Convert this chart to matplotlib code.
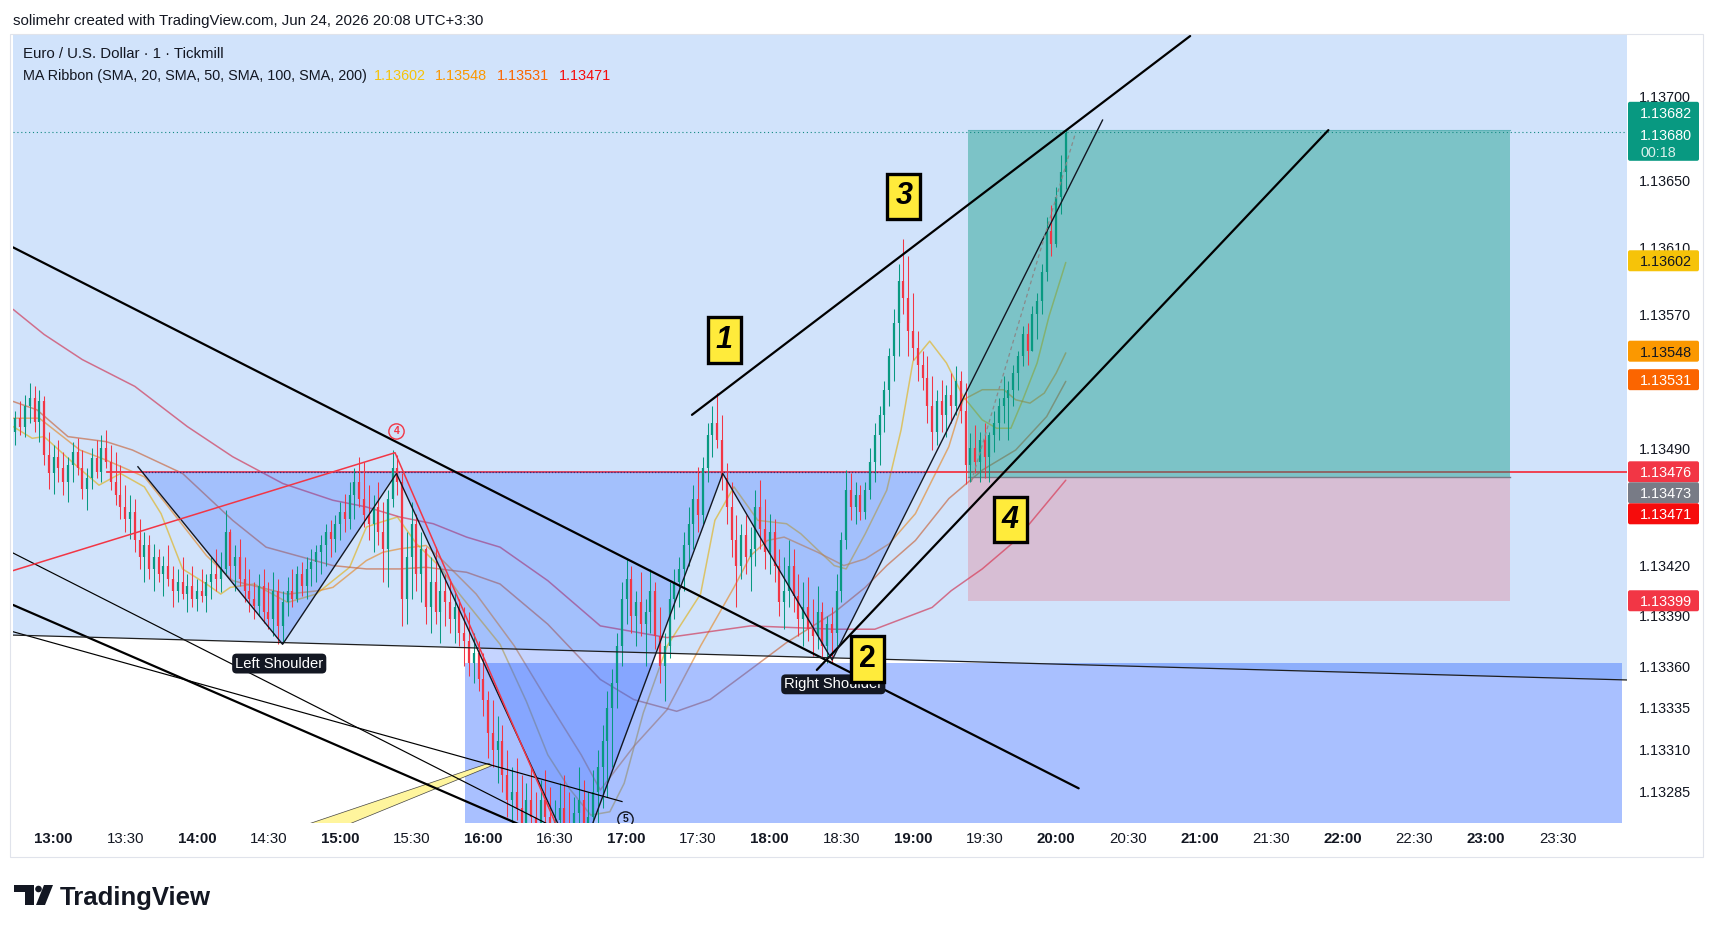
import matplotlib
matplotlib.use("Agg")
import matplotlib.pyplot as plt
from matplotlib.patches import Polygon, Rectangle, FancyBboxPatch, Circle
from matplotlib.collections import LineCollection

plt.rcParams['font.family'] = ['Liberation Sans', 'DejaVu Sans']

W, H = 1717, 933
BASE = 1.13          # prices below are stored in points (0.00001) above 1.13000
UP, DN = '#089981', '#f23645'

# ---------------- candles (2-minute, minutes after 13:00) ----------------
candle_time = list(range(-16, 425, 2))
first_open = 500
candle_high = [
    512, 518, 522, 529, 527, 525, 521, 500, 492,
    495, 488, 485, 494, 496, 489, 478, 490, 495, 498, 501,
    492, 488, 480, 468, 462, 460, 448, 440, 438,
    433, 430, 426, 432, 420, 418, 425, 415, 420, 412, 418, 415, 425, 430, 428, 453,
    442, 432, 436, 425, 418, 410, 415, 418, 410, 416, 412, 405,
    413, 418, 420, 422, 425, 430, 432, 438, 445, 447, 450, 458, 463, 470, 478, 485, 482,
    468, 462, 470, 458, 465, 489, 486,
    475, 440, 458, 451, 440, 431, 425, 431, 420, 415, 412, 405, 400, 395, 392, 380, 375, 368,
    345, 340, 330, 325, 310, 300, 305, 295, 290, 300, 285, 292, 298, 288, 280, 290, 295, 285, 282, 300, 292, 285, 298, 310, 325,
    345, 358, 380, 410, 424, 420, 405, 416, 400, 418, 410, 395, 380, 410, 418,
    425, 440, 455, 468, 479, 485, 505, 515, 523, 510,
    481, 470, 450, 445, 450, 443, 465, 471, 460, 451,
    448, 430, 425, 435, 430, 415, 410, 413, 400, 408, 398, 390, 395,
    415, 440, 477, 475, 470, 468, 470, 490, 505, 515,
    530, 550, 573, 600, 615, 605,
    583, 560, 548, 545, 533, 525, 531, 528, 535, 539, 536, 529,
    499, 504, 500, 505, 500, 512,
    520, 533, 530, 540, 548, 563, 565, 575, 583, 600, 628, 635, 646, 665, 680,
]
candle_low = [
    492, 498, 497, 505, 500, 494, 480, 466, 463,
    470, 462, 458, 470, 474, 460, 453, 466, 472, 470, 478,
    465, 456, 448, 440, 436, 428, 418, 410, 412,
    405, 410, 402, 408, 395, 398, 400, 392, 395, 393, 398, 392, 400, 405, 404, 415,
    412, 405, 408, 398, 392, 388, 390, 386, 382, 378, 373, 374,
    390, 395, 398, 402, 400, 408, 410, 415, 420, 425, 428, 435, 440, 442, 448, 455, 443,
    435, 428, 432, 410, 407, 455, 462,
    384, 385, 400, 405, 398, 385, 380, 385, 374, 384, 380, 374, 372, 360, 354, 350, 345, 330,
    305, 300, 290, 285, 270, 262, 268, 258, 255, 262, 250, 255, 260, 252, 245, 255, 258, 248, 245, 258, 250, 245, 255, 262, 275,
    282, 300, 335, 360, 385, 380, 372, 378, 360, 380, 370, 350, 339, 365, 388,
    395, 405, 420, 430, 440, 445, 470, 485, 490, 465,
    445, 425, 395, 412, 415, 405, 420, 430, 418, 415,
    410, 390, 382, 395, 392, 378, 372, 375, 366, 370, 365, 362, 362,
    372, 398, 430, 447, 445, 447, 448, 460, 470, 480,
    500, 515, 530, 545, 570, 545,
    543, 530, 525, 505, 489, 492, 500, 497, 505, 510, 505, 469,
    470, 475, 470, 472, 470, 488,
    495, 505, 495, 515, 525, 539, 540, 548, 555, 570, 590, 605, 610, 630, 645,
]
candle_close = [
    508, 503, 515, 520, 506, 518, 486, 475, 485,
    478, 470, 480, 488, 478, 466, 472, 484, 476, 490, 482,
    470, 462, 455, 448, 452, 435, 425, 432, 418,
    425, 415, 420, 412, 405, 410, 403, 408, 400, 405, 402, 410, 415, 412, 418, 440,
    420, 425, 412, 405, 400, 396, 408, 392, 388, 405, 384, 398,
    405, 400, 415, 408, 418, 422, 428, 432, 440, 436, 445, 452, 448, 462, 470, 460, 450,
    445, 455, 440, 430, 460, 478, 470,
    400, 425, 445, 415, 430, 395, 410, 392, 405, 398, 388, 395, 380, 375, 362, 368, 352, 340,
    320, 310, 315, 295, 280, 285, 275, 265, 280, 270, 262, 280, 270, 258, 268, 275, 265, 258, 272, 280, 262, 270, 285, 300, 315,
    335, 350, 372, 400, 412, 390, 398, 385, 392, 405, 378, 360, 372, 400, 410,
    418, 432, 445, 460, 450, 478, 498, 505, 495, 472,
    455, 435, 420, 438, 425, 430, 455, 442, 428, 440,
    420, 398, 405, 420, 402, 388, 395, 382, 378, 392, 372, 385, 380,
    405, 435, 465, 455, 462, 452, 465, 482, 498, 510,
    525, 545, 565, 590, 580, 560,
    550, 540, 532, 515, 500, 518, 510, 522, 515, 530, 512, 480,
    490, 482, 495, 485, 498, 505,
    515, 520, 525, 535, 545, 558, 548, 570, 578, 595, 620, 612, 640, 655, 678,
]

# ---------------- MA Ribbon ----------------
sma20_t = [-17, -9, -4, 10, 19, 28, 38, 45, 54, 64, 70, 74, 84, 98, 110, 124, 131, 135, 144, 152,
           162, 170, 187, 198, 207, 216, 225, 233, 239, 247, 257, 271, 277, 285, 295, 307, 313, 327, 332, 340,
           349, 355, 360, 367, 374, 381, 389, 395, 401, 406, 412, 417, 424]
sma20_p = [503, 496, 497, 479, 468, 475, 467, 451, 418, 409, 403, 407, 409, 398, 403, 419, 443, 445, 449, 433,
           419, 403, 373, 339, 307, 287, 271, 273, 290, 332, 372, 403, 447, 467, 447, 445, 439, 420, 418, 439,
           465, 501, 542, 554, 541, 521, 507, 502, 502, 519, 541, 569, 601]
sma50_t = [-17, -6, 11, 22, 38, 47, 64, 75, 98, 111, 117, 131, 138, 145, 156, 163, 177, 193, 207, 221,
           229, 243, 257, 271, 285, 292, 299, 306, 320, 331, 340, 350, 361, 368, 375, 381, 389, 398, 403, 409,
           415, 420, 424]
sma50_p = [508, 508, 489, 483, 473, 457, 426, 411, 403, 405, 407, 423, 428, 430, 432, 423, 403, 372, 339, 307,
           286, 312, 334, 372, 407, 426, 435, 437, 428, 420, 424, 433, 451, 471, 491, 519, 525, 525, 519, 517,
           523, 535, 547]
sma100_t = [-17, -7, 6, 22, 33, 54, 75, 89, 117, 131, 145, 156, 173, 187, 207, 229, 243, 261, 275, 292,
            307, 327, 340, 349, 361, 375, 389, 403, 416, 424]
sma100_p = [518, 513, 497, 494, 489, 475, 447, 431, 420, 418, 418, 419, 416, 409, 385, 352, 340, 333, 340, 358,
            374, 392, 407, 420, 435, 460, 477, 489, 509, 530]
sma200_t = [-17, -4, 12, 34, 56, 75, 96, 117, 131, 145, 159, 173, 187, 207, 229, 257, 292, 327, 344, 368,
            376, 389, 403, 417, 424]
sma200_p = [573, 558, 543, 527, 503, 485, 469, 459, 455, 449, 445, 437, 431, 411, 384, 377, 384, 382, 382, 395,
            405, 418, 435, 459, 471]
ma_colors = ['#f6c309', '#fb9800', '#fb6500', '#f60c0c']
ma_line_colors = ['#e0b21a', '#e58a2a', '#c8643a', '#d0304f']
ma_last = ['1.13602', '1.13548', '1.13531', '1.13471']

# ---------------- axis ticks ----------------
price_ticks = [700, 650, 610, 570, 490, 420, 390, 360, 335, 310, 285]
price_labels = ['1.13700', '1.13650', '1.13610', '1.13570', '1.13490', '1.13420',
                '1.13390', '1.13360', '1.13335', '1.13310', '1.13285']
time_ticks = [0, 30, 60, 90, 120, 150, 180, 210, 240, 270, 300, 330, 360, 390,
              420, 450, 480, 510, 540, 570, 600, 630]
time_labels = ['13:00', '13:30', '14:00', '14:30', '15:00', '15:30', '16:00', '16:30',
               '17:00', '17:30', '18:00', '18:30', '19:00', '19:30', '20:00', '20:30',
               '21:00', '21:30', '22:00', '22:30', '23:00', '23:30']

# ---------------- drawings (time, points) ----------------
zone_line = [(-17.03, 378.5), (659.1, 351.7)]
zone_rect = (172.5, 656.9, 362.1)          # t0, t1, top
neckline = 476
neck_start = 22.3
hs_zigzag = [(35.3, 479), (95.9, 373), (143.6, 475), (219.3, 241), (280.3, 475), (326.1, 363.6), (439.4, 686)]
hs_fill = [(37, 476), (95.9, 373), (143.6, 476), (219.3, 241), (280.3, 476), (326.1, 363.6), (365.2, 476)]
thick_lines = [((-17, 610), (429.4, 287)),
               ((267.4, 510), (476.1, 736.2)),
               ((319.7, 357.7), (534, 680)),
               ((-17, 396.5), (260, 225.3))]
thin_lines = [((-17, 427.5), (230, 249)),
              ((-17, 380.5), (238.1, 279.1))]
red_path = [(-17, 417), (143, 487.4), (220, 234)]
dash_line = [(384.4, 470), (428, 678)]
wedge = [(74, 250), (182.3, 302), (183.5, 300.5), (96.9, 250)]
pos_t0, pos_t1, pos_entry, pos_target, pos_stop = 383, 610.1, 473, 680, 399
last_price = 679
num_boxes = [('1', 281, 554.7, 'italic'), ('2', 341, 364.4, 'normal'),
             ('3', 356.2, 640.4, 'italic'), ('4', 400.7, 447.5, 'italic')]
shoulders = [('Left Shoulder', 94.5, 361.5), ('Right Shoulder', 326.6, 349.1)]
circ_marks = [('4', 143.6, 500.1, '#f23645'), ('5', 239.4, 268.7, '#131722')]

right_labels = [('1.13602', 602, '#f6c309', '#131722'),
                ('1.13548', 548, '#fb9800', '#131722'),
                ('1.13531', 531, '#fb6500', 'white'),
                ('1.13476', 476, '#f23645', 'white'),
                ('1.13473', 473, '#787b86', 'white'),
                ('1.13471', 471, '#f60c0c', 'white'),
                ('1.13399', 399, '#f23645', 'white')]

# ================= figure =================
fig = plt.figure(figsize=(W / 100, H / 100), dpi=100)
fig.patch.set_facecolor('white')
ax = fig.add_axes([13 / W, 1 - 823 / H, (1627 - 13) / W, (823 - 35) / H])
XL, XR, YB, YT = -17.03, 659.1, 266.3, 736.8
ax.set_xlim(XL, XR)
ax.set_ylim(YB, YT)
ax.set_facecolor('white')
for s in ax.spines.values():
    s.set_visible(False)

# shaded zone above the near-horizontal line
(z0t, z0p), (z1t, z1p) = zone_line
ax.add_patch(Polygon([(z0t, z0p), (z1t, z1p), (z1t, YT + 10), (z0t, YT + 10)],
                     closed=True, fc='#d1e3fb', ec='none', zorder=0.5))
# MA lines
for (tt, pp), c in zip([(sma20_t, sma20_p), (sma50_t, sma50_p), (sma100_t, sma100_p), (sma200_t, sma200_p)],
                       ma_line_colors):
    ax.plot(tt, pp, color=c, lw=1.1, alpha=0.65, zorder=2, solid_capstyle='round')

# neckline red
ax.plot([neck_start, XR], [neckline, neckline], color='#f23645', lw=1.3, zorder=2.5)
# lower blue rectangle
ax.add_patch(Rectangle((zone_rect[0], YB - 50), zone_rect[1] - zone_rect[0], zone_rect[2] - YB + 50,
                       fc='#2962ff', alpha=0.4, ec='none', zorder=2.8))
# H&S fill
ax.add_patch(Polygon(hs_fill, closed=True, fc='#2962ff', alpha=0.27, ec='none', zorder=3))
ax.plot([hs_fill[0][0], hs_fill[-1][0]], [neckline, neckline], color='#3a2a72', lw=0.9,
        ls=(0, (1, 1.5)), zorder=3.1)
# position tool
ax.add_patch(Rectangle((pos_t0, pos_entry), pos_t1 - pos_t0, pos_target - pos_entry,
                       fc='#089981', alpha=0.42, ec='none', zorder=3))
ax.add_patch(Rectangle((pos_t0, pos_stop), pos_t1 - pos_t0, pos_entry - pos_stop,
                       fc='#f23645', alpha=0.21, ec='none', zorder=3))
ax.plot([pos_t0, pos_t1], [pos_entry, pos_entry], color='#787b86', lw=1.0, zorder=3.2)
ax.plot([pos_t0, pos_t1], [pos_target, pos_target], color='#5fb3b8', lw=0.8, zorder=3.2)
# last price dotted
ax.plot([XL, XR], [last_price, last_price], color='#138a83', lw=0.8, ls=(0, (1, 2.5)), zorder=3.3)

# candles
opens = [first_open] + candle_close[:-1]
n = min(len(candle_time), len(candle_high), len(candle_low), len(candle_close))
wicks, bodies, cols = [], [], []
for i in range(n):
    t, o, c = candle_time[i], opens[i], candle_close[i]
    col = UP if c >= o else DN
    wicks.append([(t, candle_low[i]), (t, candle_high[i])])
    if abs(c - o) < 1:
        c = o + 0.8
    bodies.append([(t, o), (t, c)])
    cols.append(col)
ax.add_collection(LineCollection(wicks, colors=cols, linewidths=0.75, zorder=4))
ax.add_collection(LineCollection(bodies, colors=cols, linewidths=1.6, zorder=4, capstyle='butt'))

# trend lines
for (a, b) in thick_lines:
    ax.plot([a[0], b[0]], [a[1], b[1]], color='black', lw=1.6, zorder=5, solid_capstyle='round')
for (a, b) in thin_lines:
    ax.plot([a[0], b[0]], [a[1], b[1]], color='black', lw=0.85, zorder=5)
ax.plot([zone_line[0][0], zone_line[1][0]], [zone_line[0][1], zone_line[1][1]], color='#1e1e1e', lw=0.9, zorder=5)
ax.plot([p[0] for p in hs_zigzag], [p[1] for p in hs_zigzag], color='#131722', lw=1.0, zorder=5)
ax.plot([p[0] for p in red_path], [p[1] for p in red_path], color='#f23645', lw=1.1, zorder=5)
ax.plot([p[0] for p in dash_line], [p[1] for p in dash_line], color='#8a8a8a', lw=0.9, ls=(0, (3, 2.5)), zorder=5)
ax.add_patch(Polygon(wedge, closed=True, fc='#fff59d', ec='#444444', lw=0.5, zorder=4.5))

# circled markers
for s, t, p, c in circ_marks:
    ax.plot([t], [p], marker='o', ms=11, mfc='none', mec=c, mew=1.0, zorder=6)
    ax.text(t, p, s, fontsize=7.5, color=c, ha='center', va='center', fontweight='bold', zorder=6, clip_on=True)

# shoulder labels
for s, t, p in shoulders:
    ax.text(t, p, s, fontsize=10.6, color='white', ha='center', va='center', zorder=6,
            bbox=dict(boxstyle='round,pad=0.2,rounding_size=0.3', fc='#131722', ec='none'))
# number boxes
for s, t, p, st in num_boxes:
    ax.text(t, p, s, fontsize=22, color='black', ha='center', va='center', fontweight='bold', fontstyle=st,
            zorder=7, bbox=dict(boxstyle='square,pad=0.26', fc='#ffeb3b', ec='black', lw=2.4))

# axes ticks
ax.yaxis.tick_right()
ax.set_yticks(price_ticks)
ax.set_yticklabels(price_labels)
ax.tick_params(axis='y', length=0, pad=8.6, labelsize=10.4, labelcolor='#131722')
ax.set_xticks(time_ticks)
ax.set_xticklabels(time_labels)
ax.tick_params(axis='x', length=0, pad=6.8, labelsize=10.8, labelcolor='#131722')
for lab in ax.get_xticklabels():
    if lab.get_text().endswith(':00'):
        lab.set_fontweight('bold')

# ================= overlay in pixel coordinates =================
ov = fig.add_axes([0, 0, 1, 1])
ov.set_zorder(5)
ov.set_xlim(0, W)
ov.set_ylim(H, 0)
ov.axis('off')
ov.patch.set_alpha(0)


def ypix(p):
    return H - ax.transData.transform((0, p))[1]


ov.add_patch(Rectangle((10, 34), 1693, 823, fill=False, ec='#e0e3eb', lw=0.8))

# price scale labels (stacked so they do not overlap)
prev = -1e9
for s, p, fc, tc in right_labels:
    yc = max(ypix(p), prev + 21)
    prev = yc
    ov.add_patch(FancyBboxPatch((1628, yc - 10.5), 71, 21, boxstyle='round,pad=0,rounding_size=2',
                                fc=fc, ec='none'))
    ov.text(1640, yc, s, fontsize=10.4, color=tc, ha='left', va='center_baseline')
yl = ypix(last_price)
ov.add_patch(FancyBboxPatch((1628, yl - 30), 71, 59, boxstyle='round,pad=0,rounding_size=2',
                            fc='#089981', ec='none'))
ov.text(1640, yl - 19, '1.13682', fontsize=10.4, color='white', ha='left', va='center_baseline')
ov.text(1640, yl + 3, '1.13680', fontsize=10.4, color='white', ha='left', va='center_baseline')
ov.text(1640, yl + 20, '00:18', fontsize=10.4, color='#d8f0ec', ha='left', va='center_baseline')

# header and legend
ov.text(13, 19.7, 'solimehr created with TradingView.com, Jun 24, 2026 20:08 UTC+3:30',
        fontsize=10.8, color='#131722', ha='left', va='center_baseline')
ov.text(23, 52.6, 'Euro / U.S. Dollar · 1 · Tickmill', fontsize=10.8, color='#131722',
        ha='left', va='center_baseline')
ov.text(23, 74.5, 'MA Ribbon (SMA, 20, SMA, 50, SMA, 100, SMA, 200)', fontsize=10.4, color='#131722',
        ha='left', va='center_baseline')
for xv, s, c in zip([374, 435, 497, 559], ma_last, ma_colors):
    ov.text(xv, 74.5, s, fontsize=10.4, color=c, ha='left', va='center_baseline')

# TradingView logo
ov.add_patch(Rectangle((14, 885), 20, 7, fc='#131722', ec='none'))
ov.add_patch(Rectangle((25, 885), 9, 20, fc='#131722', ec='none'))
ov.add_patch(Circle((38.5, 889), 3.3, fc='#131722', ec='none'))
ov.add_patch(Polygon([(44, 885), (53, 885), (45, 905), (36, 905)], closed=True, fc='#131722', ec='none'))
ov.text(60, 896, 'TradingView', fontsize=18.5, fontweight='bold', color='#131722', ha='left', va='center_baseline')

fig.savefig('out.png', dpi=100)
